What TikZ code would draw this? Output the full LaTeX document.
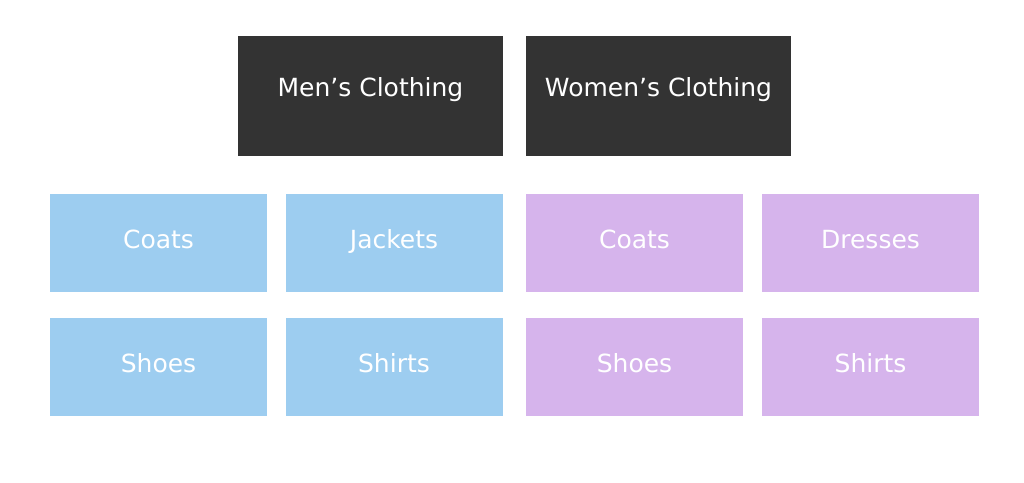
\documentclass[tikz,border=0pt]{standalone}
\usepackage{fontspec}
\setmainfont{DejaVu Sans}
\definecolor{darkbox}{HTML}{333333}
\definecolor{bluebox}{HTML}{9DCDF0}
\definecolor{purplebox}{HTML}{D6B4EC}
\begin{document}
\begin{tikzpicture}[x=1pt,y=-1pt,
  box/.style={draw=none, inner sep=0pt, text=white, font=\fontsize{25}{30}\selectfont},
  headbox/.style={box, fill=darkbox, minimum width=265pt, minimum height=120pt, text height=18pt, text depth=17pt},
  menbox/.style={box, fill=bluebox, minimum width=217pt, minimum height=98pt, text height=18pt, text depth=7pt},
  womenbox/.style={box, fill=purplebox, minimum width=217pt, minimum height=98pt, text height=18pt, text depth=7pt}]
\useasboundingbox[fill=white] (0,0) rectangle (1024,482);
\node[headbox] (men) at (370.5,96) {Men’s Clothing};
\node[headbox] (women) at (658.5,96) {Women’s Clothing};
\node[menbox] (mcoats) at (158.5,242.5) {Coats};
\node[menbox] (mjackets) at (394,242.5) {Jackets};
\node[menbox] (mshoes) at (158.5,367) {Shoes};
\node[menbox] (mshirts) at (394,367) {Shirts};
\node[womenbox] (wcoats) at (634.5,242.5) {Coats};
\node[womenbox] (wdresses) at (870.5,242.5) {Dresses};
\node[womenbox] (wshoes) at (634.5,367) {Shoes};
\node[womenbox] (wshirts) at (870.5,367) {Shirts};
\end{tikzpicture}
\end{document}
